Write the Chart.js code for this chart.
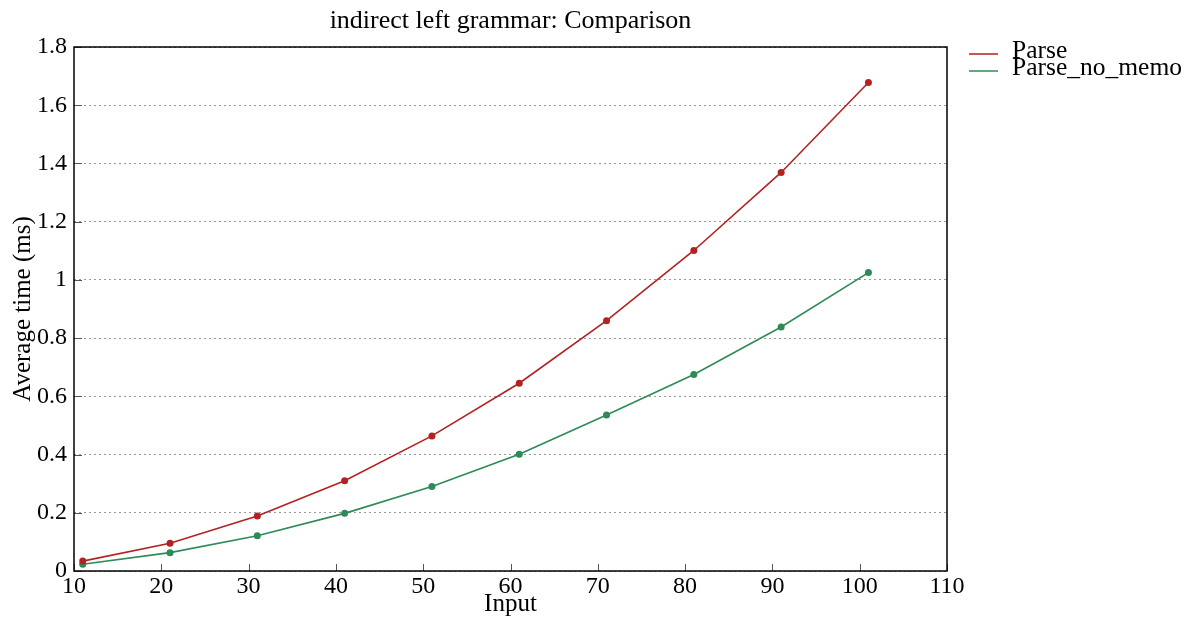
<!DOCTYPE html>
<html>
<head>
<meta charset="utf-8">
<script src="https://cdn.jsdelivr.net/npm/chart.js@4.4.1/dist/chart.umd.min.js"></script>
<style>
  body { margin: 0; background: #fff; }
  #wrap { width: 1202px; height: 622px; }
</style>
</head>
<body>
<div id="wrap"><canvas id="ChartA" width="1202" height="622"></canvas></div>
<script>
// input sizes and measured average times (ms)
let inputs = [11, 21, 31, 41, 51, 61, 71, 81, 91, 101];
let parseTimes = [0.034, 0.095, 0.189, 0.310, 0.464, 0.645, 0.860, 1.101, 1.369, 1.678];
let noMemoTimes = [0.023, 0.063, 0.121, 0.198, 0.290, 0.401, 0.536, 0.675, 0.838, 1.025];
let xTicks = [10, 20, 30, 40, 50, 60, 70, 80, 90, 100, 110];
let yTicks = [0, 0.2, 0.4, 0.6, 0.8, 1, 1.2, 1.4, 1.6, 1.8];

const serif = 'Liberation Serif';

function pts(ys) {
  return inputs.map(function(x, i) { return {x: x, y: ys[i]}; });
}

// frame, inward tick marks and the legend, drawn like the original plot
const frame = {
  id: 'frame',
  afterDraw(chart) {
    const ctx = chart.ctx;
    const a = chart.chartArea;
    const xs = chart.scales.x, ys = chart.scales.y;
    ctx.save();
    ctx.strokeStyle = '#555';
    ctx.lineWidth = 1;
    xTicks.forEach(function(v) {
      const px = Math.round(xs.getPixelForValue(v)) + 0.5;
      ctx.beginPath(); ctx.moveTo(px, a.bottom); ctx.lineTo(px, a.bottom - 7); ctx.stroke();
    });
    yTicks.forEach(function(v) {
      const py = Math.round(ys.getPixelForValue(v)) + 0.5;
      ctx.beginPath(); ctx.moveTo(a.left, py); ctx.lineTo(a.left + 8, py); ctx.stroke();
    });
    ctx.strokeStyle = '#000';
    ctx.lineWidth = 1.5;
    ctx.strokeRect(a.left, a.top, a.right - a.left, a.bottom - a.top);

    // legend
    ctx.font = '25.5px "' + serif + '"';
    ctx.textBaseline = 'middle';
    ctx.fillStyle = '#000';
    chart.data.datasets.forEach(function(ds, i) {
      const y = 54 + i * 17;
      ctx.strokeStyle = ds.borderColor;
      ctx.lineWidth = 1.5;
      ctx.beginPath(); ctx.moveTo(969, y); ctx.lineTo(998, y); ctx.stroke();
      ctx.fillText(ds.label, 1012, y - 3);
    });
    ctx.restore();
  }
};

new Chart(document.getElementById('ChartA').getContext('2d'), {
  type: 'line',
  data: {
    datasets: [
      {
        label: 'Parse',
        data: pts(parseTimes),
        borderColor: '#b22222',
        backgroundColor: '#b22222',
        borderWidth: 1.6,
        pointRadius: 3.5,
        pointBorderWidth: 0,
        tension: 0
      },
      {
        label: 'Parse_no_memo',
        data: pts(noMemoTimes),
        borderColor: '#2e8b57',
        backgroundColor: '#2e8b57',
        borderWidth: 1.6,
        pointRadius: 3.5,
        pointBorderWidth: 0,
        tension: 0
      }
    ]
  },
  options: {
    responsive: false,
    animation: false,
    layout: { padding: { left: 0, right: 255, top: 0, bottom: 0 } },
    plugins: {
      legend: { display: false },
      tooltip: { enabled: false },
      title: {
        display: true,
        fullSize: false,
        text: 'indirect left grammar: Comparison',
        color: '#000',
        font: { family: serif, size: 26, weight: 'normal' },
        padding: { top: 6, bottom: 9.8 }
      }
    },
    scales: {
      x: {
        type: 'linear',
        min: 10,
        max: 110,
        afterFit: function(s) { s.height = 51; },
        afterBuildTicks: function(s) { s.ticks = xTicks.map(function(v) { return {value: v}; }); },
        grid: { display: false, drawTicks: false },
        border: { display: false },
        ticks: { color: '#000', padding: 1, maxRotation: 0, font: { family: serif, size: 24 } },
        title: {
          display: true,
          text: 'Input',
          color: '#000',
          font: { family: serif, size: 25 },
          padding: { top: 0, bottom: 3 }
        }
      },
      y: {
        min: 0,
        max: 1.8,
        afterFit: function(s) { s.width = 74; },
        afterBuildTicks: function(s) { s.ticks = yTicks.map(function(v) { return {value: v}; }); },
        grid: {
          color: '#999',
          lineWidth: 1,
          drawTicks: false
        },
        border: { display: false, dash: [2, 3] },
        ticks: {
          color: '#000',
          padding: 7,
          font: { family: serif, size: 24 },
          callback: function(v) { return String(Math.round(v * 10) / 10); }
        },
        title: {
          display: true,
          text: 'Average time (ms)',
          color: '#000',
          font: { family: serif, size: 25 },
          padding: { top: 8, bottom: 0 }
        }
      }
    }
  },
  plugins: [frame]
});
</script>
</body>
</html>
